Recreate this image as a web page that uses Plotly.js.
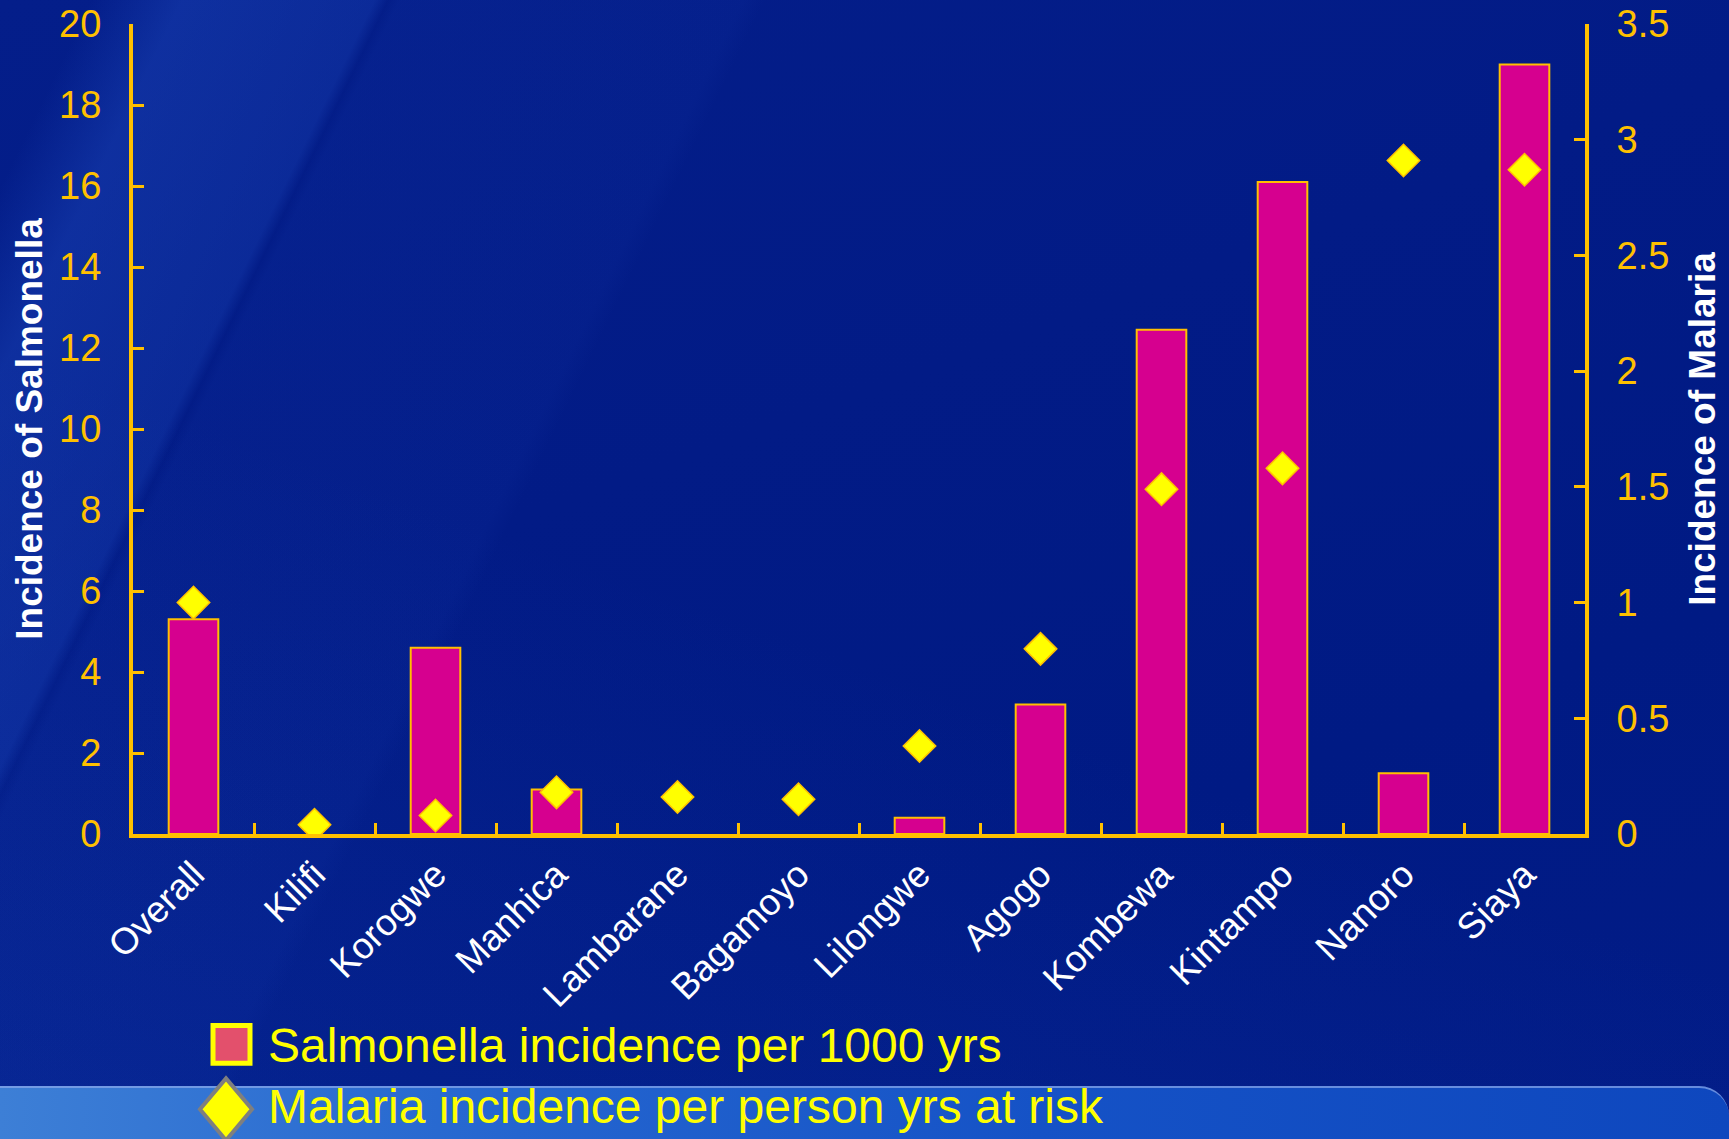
<!DOCTYPE html>
<html>
<head>
<meta charset="utf-8">
<script src="https://cdn.plot.ly/plotly-3.0.1.min.js"></script>
<style>
  html, body { margin: 0; padding: 0; width: 1729px; height: 1139px; overflow: hidden; }
  body {
    background:
      linear-gradient(116deg, rgba(0,0,0,0) 0%, rgba(0,0,0,0) 4%, rgba(40,90,210,0.30) 8%, rgba(40,90,210,0.22) 16.4%, rgba(0,0,0,0) 17%, rgba(30,70,190,0.10) 17.5%, rgba(30,70,190,0.08) 32.5%, rgba(0,0,0,0) 33.5%),
      linear-gradient(200deg, rgba(0,0,0,0) 55%, rgba(30,80,200,0.18) 100%),
      linear-gradient(160deg, #041e8a 0%, #021b86 40%, #001a84 70%, #021c87 100%);
    position: relative;
  }
  #band {
    position: absolute; left: 0; top: 1086px; width: 1729px; height: 53px;
    background: linear-gradient(to right, #3d7fd6 0%, #2465cf 30%, #1552c6 60%, #0e47be 100%);
    border-top: 2px solid rgba(140,170,235,0.7);
    border-top-right-radius: 30px;
  }
  #chart { position: absolute; left: 0; top: 0; width: 1729px; height: 1139px; }
</style>
</head>
<body>
<div id="band"></div>
<div id="chart"></div>
<script>
const categories = ["Overall", "Kilifi", "Korogwe", "Manhica", "Lambarane", "Bagamoyo", "Lilongwe", "Agogo", "Kombewa", "Kintampo", "Nanoro", "Siaya"];
const salmonellaIncidence = [5.3, 0, 4.6, 1.1, 0, 0, 0.4, 3.2, 12.45, 16.1, 1.5, 19.0];
const malariaIncidence = [1.0, 0.04, 0.08, 0.18, 0.16, 0.15, 0.38, 0.80, 1.49, 1.58, 2.91, 2.87];
const leftTicks = [0, 2, 4, 6, 8, 10, 12, 14, 16, 18, 20];
const rightTicks = [0, 0.5, 1, 1.5, 2, 2.5, 3, 3.5];
const seriesNames = ["Salmonella incidence per 1000 yrs", "Malaria incidence per person yrs at risk"];

const AX = "#FFC000";
const FONT = "Liberation Sans, Arial, sans-serif";

const traces = [
  {
    type: "bar", x: categories, y: salmonellaIncidence, name: seriesNames[0],
    width: 0.41,
    marker: { color: "#D6008F", line: { color: AX, width: salmonellaIncidence.map(v => v > 0 ? 2 : 0) } },
    yaxis: "y", hoverinfo: "x+y"
  },
  {
    type: "scatter", mode: "markers", x: categories, y: malariaIncidence, name: seriesNames[1],
    marker: { symbol: "diamond", size: 25, color: "#FFFF00", line: { color: AX, width: 1.5 } },
    yaxis: "y2", hoverinfo: "x+y"
  }
];

// plot-area geometry helpers for legend placement (paper coords)
const L = 133, R = 1585, T = 24, B = 834.5;
const px = v => (v - L) / (R - L);
const py = v => (B - v) / (B - T);

const dcx = px(226), dcy = py(1110), dhw = 26 / (R - L), dhh = 31 / (B - T);

const layout = {
  width: 1729, height: 1139,
  margin: { l: L, r: 1729 - R, t: T, b: 1139 - B, pad: 0 },
  paper_bgcolor: "rgba(0,0,0,0)",
  plot_bgcolor: "rgba(0,0,0,0)",
  showlegend: false,
  font: { family: FONT },
  xaxis: {
    type: "category",
    showline: true, linecolor: AX, linewidth: 4,
    ticks: "inside", tickson: "boundaries", ticklen: 11, tickwidth: 3, tickcolor: AX,
    tickangle: -45,
    tickfont: { family: FONT, size: 37, color: "#FFFFFF" },
    showgrid: false, zeroline: false,
    range: [-0.5, 11.5]
  },
  yaxis: {
    range: [0, 20], tickvals: leftTicks,
    showline: true, linecolor: AX, linewidth: 4,
    ticks: "inside", ticklen: 11, tickwidth: 3, tickcolor: AX,
    ticklabelstandoff: 20,
    tickfont: { family: FONT, size: 38, color: AX },
    showgrid: false, zeroline: false,
    title: { text: "Incidence of Salmonella", font: { family: FONT, size: 37, color: "#FFFFFF", weight: "bold" }, standoff: 6 }
  },
  yaxis2: {
    range: [0, 3.5], tickvals: rightTicks, overlaying: "y", side: "right",
    showline: true, linecolor: AX, linewidth: 4,
    ticks: "inside", ticklen: 11, tickwidth: 3, tickcolor: AX,
    ticklabelstandoff: 20,
    tickfont: { family: FONT, size: 38, color: AX },
    showgrid: false, zeroline: false,
    title: { text: "Incidence of Malaria", font: { family: FONT, size: 37, color: "#FFFFFF", weight: "bold" }, standoff: 22 }
  },
  shapes: [
    { type: "rect", xref: "paper", yref: "paper",
      x0: px(213), x1: px(250), y0: py(1064), y1: py(1026),
      fillcolor: "#E3506C", line: { color: "#FFFF00", width: 5 } },
    { type: "path", xref: "paper", yref: "paper",
      path: `M ${dcx},${dcy + dhh} L ${dcx + dhw},${dcy} L ${dcx},${dcy - dhh} L ${dcx - dhw},${dcy} Z`,
      fillcolor: "#FFFF00", line: { color: "#7F7F7F", width: 4 } }
  ],
  annotations: [
    { xref: "paper", yref: "paper", x: px(266), y: py(1046), xanchor: "left", yanchor: "middle",
      text: seriesNames[0], showarrow: false, font: { family: FONT, size: 48, color: "#FFFF00" } },
    { xref: "paper", yref: "paper", x: px(266), y: py(1107), xanchor: "left", yanchor: "middle",
      text: seriesNames[1], showarrow: false, font: { family: FONT, size: 48, color: "#FFFF00" } }
  ]
};

Plotly.newPlot("chart", traces, layout, { displayModeBar: false, staticPlot: true });
</script>
</body>
</html>
